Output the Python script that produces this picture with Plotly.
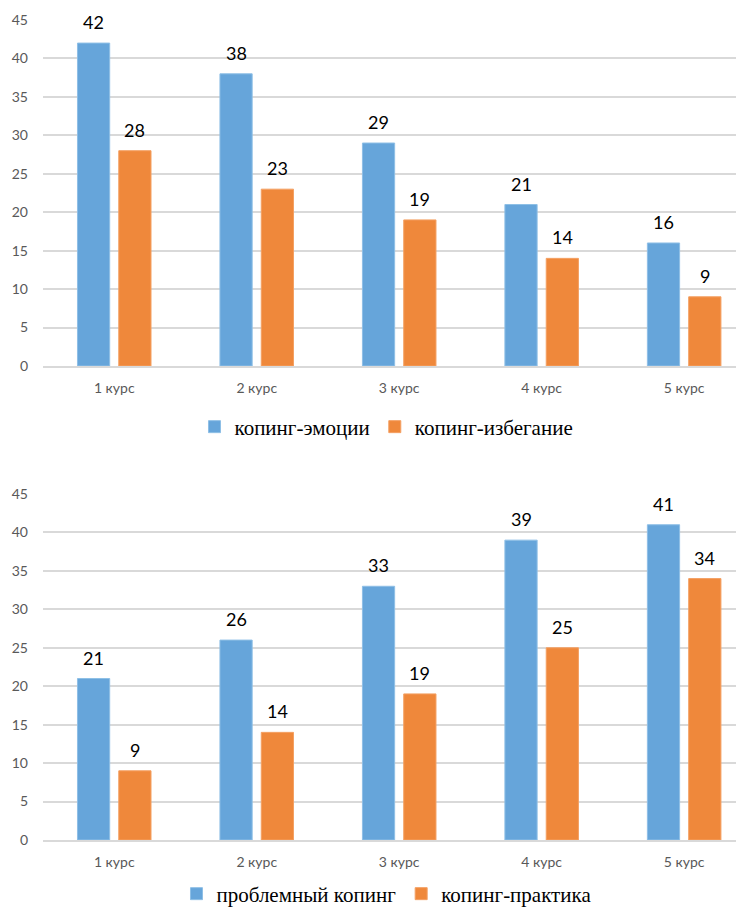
import plotly.graph_objects as go
from plotly.subplots import make_subplots

categories = ["1 курс", "2 курс", "3 курс", "4 курс", "5 курс"]
emotions = [42, 38, 29, 21, 16]
avoidance = [28, 23, 19, 14, 9]
problem = [21, 26, 33, 39, 41]
practice = [9, 14, 19, 25, 34]
y_ticks = [0, 5, 10, 15, 20, 25, 30, 35, 40, 45]

BLUE = "#66A5DA"
ORANGE = "#EF883B"
# page body has an 8px margin, so the figure fills the rest of the 744x908 window
W, H = 736, 900
OFF = 8

fig = make_subplots(rows=2, cols=1)

def add_pair(row, a, b, name_a, name_b, legend):
    fig.add_trace(go.Bar(x=categories, y=a, name=name_a, marker_color=BLUE,
                         marker_line=dict(color="#8EBFE6", width=1),
                         legend=legend), row=row, col=1)
    fig.add_trace(go.Bar(x=categories, y=b, name=name_b, marker_color=ORANGE,
                         marker_line=dict(color="#F4A063", width=1),
                         legend=legend), row=row, col=1)
    xref = "x" if row == 1 else "x2"
    yref = "y" if row == 1 else "y2"
    for cat, va, vb in zip(categories, a, b):
        for v, sh in ((va, -20.5), (vb, 20.5)):
            fig.add_annotation(x=cat, y=v, xref=xref, yref=yref, text=str(v),
                               showarrow=False, xshift=sh, yshift=21,
                               yanchor="middle",
                               font=dict(family="Lato, Carlito, sans-serif",
                                         size=18, color="#000000"))

add_pair(1, emotions, avoidance, "копинг-эмоции", "копинг-избегание", "legend")
add_pair(2, problem, practice, "проблемный копинг", "копинг-практика", "legend2")

def py(y_ref):
    return 1 - (y_ref - OFF) / H

axis_font = dict(family="Lato, Carlito, sans-serif", size=14, color="#595959")
for i, (top, bot) in ((1, (20, 366)), (2, (494, 840))):
    fig.update_yaxes(row=i, col=1, domain=[py(bot), py(top)], range=[0, 45],
                     tickvals=y_ticks, showgrid=True, gridcolor="#D9D9D9",
                     gridwidth=1.5, zeroline=False, showline=False,
                     tickfont=axis_font, ticks="", ticklabelstandoff=14,
                     automargin=False)
    fig.update_xaxes(row=i, col=1, range=[-0.5, 4.42], showgrid=False,
                     showline=True, linecolor="#D9D9D9", linewidth=1.5,
                     tickfont=axis_font, ticks="", ticklabelstandoff=8,
                     automargin=False)

legend_font = dict(family="Liberation Serif, DejaVu Serif, serif", size=21, color="#000000")
fig.update_layout(
    width=W, height=H,
    margin=dict(l=43 - OFF, r=0, t=0, b=0, autoexpand=False),
    paper_bgcolor="white", plot_bgcolor="white",
    barmode="group", bargap=0.42, bargroupgap=0.22,
    showlegend=True,
    legend=dict(orientation="h", x=0.49, xanchor="center", y=py(427),
                yanchor="middle", font=legend_font, itemwidth=30,
                bgcolor="rgba(0,0,0,0)"),
    legend2=dict(orientation="h", x=0.49, xanchor="center", y=py(894),
                 yanchor="middle", font=legend_font, itemwidth=30,
                 bgcolor="rgba(0,0,0,0)"),
)

fig.write_html("out.html")
